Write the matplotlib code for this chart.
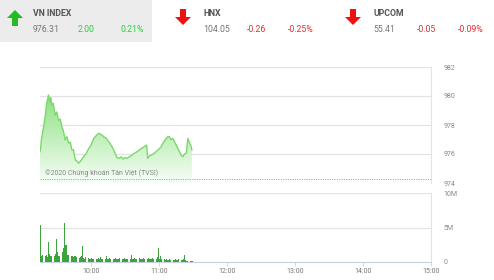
import matplotlib
matplotlib.use("Agg")
import matplotlib.pyplot as plt
import matplotlib.patches as mpatches
import numpy as np

plt.rcParams['font.family'] = ['Roboto', 'DejaVu Sans']

# ---------------- data ----------------
# header quotes
idx_names = ["VN INDEX", "HNX", "UPCOM"]
idx_values = ["976.31", "104.05", "55.41"]
idx_changes = ["2.00", "-0.26", "-0.05"]
idx_pcts = ["0.21%", "-0.25%", "-0.09%"]
idx_up = [True, False, False]

# price (minutes after 09:15)
price_min = [0, 0.4, 1.1, 2.8, 4.6, 5.9, 7.5, 8.6, 9.5, 10.4, 11.7, 13.3, 14.8, 16.3,
             17.9, 19.3, 20.6, 22.2, 23.7, 25.2, 26.8, 28.1, 29.5, 31.1, 32.6, 34.1,
             36.1, 38.5, 40.6, 43.0, 45.0, 47.4, 49.4, 51.8, 53.9, 56.3, 58.3, 60.7,
             62.8, 65.1, 66.7, 68.1, 69.9, 71.6, 73.4, 75.2, 77.0, 78.7, 80.9, 83.2,
             85.4, 87.6, 89.8, 92.0, 94.1, 95.0, 96.5, 98.0, 100.0, 102.4, 104.5,
             106.9, 108.9, 111.3, 112.9, 114.2, 115.6, 117.2, 118.7, 120.2, 121.8,
             123.1, 124.6, 126.0, 127.5, 129.1, 130.5, 132.0, 133.1, 134.0]
price_val = [976.16, 976.28, 976.9, 977.7, 978.6, 979.5, 980.07, 979.6, 979.9, 979.38,
             979.5, 978.69, 978.9, 978.34, 978.4, 977.88, 977.6, 976.97, 977.2, 976.76,
             976.8, 976.28, 976.3, 975.59, 975.5, 975.36, 975.55, 975.82, 976.0, 976.39,
             976.6, 977.08, 977.25, 977.43, 977.35, 977.19, 977.1, 976.85, 976.6,
             976.28, 975.95, 975.75, 975.7, 975.8, 975.65, 975.75, 975.7, 975.82,
             975.9, 976.05, 976.15, 976.28, 976.4, 976.5, 976.62, 975.7, 975.85,
             975.93, 976.0, 976.16, 976.3, 976.5, 976.8, 977.08, 977.2, 977.19, 977.0,
             977.08, 976.85, 976.62, 976.35, 976.16, 975.9, 975.82, 976.0, 976.05,
             977.08, 976.74, 976.6, 976.28]
ref_price = 974.31

# volume per minute (millions), minutes 0..134 after 09:15
volume = [5.3, 0.9, 1.0, 0.8, 0.9, 1.0, 0.7, 2.9, 1.2, 0.8, 0.9, 0.7, 0.8, 1.1, 3.4,
          1.4, 0.9, 0.8, 3.0, 1.5, 2.1, 5.6, 2.5, 2.4, 1.0, 1.0, 2.3, 0.8, 0.9, 0.7,
          0.8, 0.9, 0.7, 0.8, 0.6, 0.7, 0.9, 2.3, 0.6, 0.5, 0.7, 0.5, 0.6, 0.4, 0.5,
          0.6, 0.4, 0.5, 0.7, 0.5, 0.4, 0.6, 0.5, 0.7, 0.4, 0.5, 0.6, 0.5, 0.8, 0.5,
          0.4, 0.6, 0.5, 0.7, 0.5, 0.4, 0.6, 0.5, 0.4, 0.5, 0.6, 0.4, 0.5, 0.4, 0.6,
          0.5, 0.4, 0.5, 0.6, 0.5, 1.0, 0.5, 0.4, 0.6, 0.5, 0.4, 0.5, 0.6, 0.4, 0.5,
          0.4, 0.6, 0.5, 0.4, 0.5, 0.6, 0.4, 0.5, 0.4, 0.6, 0.5, 0.4, 0.5, 0.7, 2.0,
          0.5, 0.8, 0.4, 1.3, 0.4, 0.3, 0.4, 0.3, 0.3, 0.4, 0.3, 0.5, 0.3, 0.3, 0.4,
          0.3, 0.3, 0.4, 0.3, 0.3, 0.3, 0.4, 1.0, 0.3, 0.2, 0.2, 0.3, 0.2, 0.2, 0.2]

price_ticks = [974, 976, 978, 980, 982]
vol_ticks = [0, 5, 10]
vol_tick_labels = ["0", "5M", "10M"]
time_ticks = [10, 11, 12, 13, 14, 15]
time_labels = ["10:00", "11:00", "12:00", "13:00", "14:00", "15:00"]
start_hour = 9.25
end_hour = 15.0

# ---------------- figure ----------------
W, H = 494, 280
fig = plt.figure(figsize=(W / 100, H / 100), dpi=100)
fig.patch.set_facecolor("white")

def fx(px):
    return px / W

def fy(py):
    return 1 - py / H

# header background for first index
fig.patches.append(mpatches.Rectangle((0, fy(42)), fx(152), 42 / H,
                                      transform=fig.transFigure,
                                      facecolor="#ececec", edgecolor="none", zorder=0))

green_txt = "#2ecc40"
red_txt = "#e03030"
name_x = [33, 203, 373]
chg_x = [78, 247, 417]
pct_x = [144, 314, 484]
arrow_x = [15, 183, 353]
for i in range(3):
    fig.text(fx(name_x[i]), fy(13), idx_names[i], fontsize=6.3, fontweight="bold",
             color="#555555", va="center", ha="left")
    fig.text(fx(name_x[i]), fy(30), idx_values[i], fontsize=6.3, color="#777777",
             va="center", ha="left")
    c = green_txt if idx_up[i] else red_txt
    fig.text(fx(chg_x[i]), fy(30), idx_changes[i], fontsize=6.3, color=c,
             va="center", ha="left")
    fig.text(fx(pct_x[i]), fy(30), idx_pcts[i], fontsize=6.3, color=c,
             va="center", ha="right")
    ax0 = arrow_x[i]
    if idx_up[i]:
        pts = [(ax0 - 8, 18), (ax0, 10), (ax0 + 8, 18), (ax0 + 3, 18), (ax0 + 3, 26),
               (ax0 - 3, 26), (ax0 - 3, 18)]
        col = "#22bb22"
    else:
        pts = [(ax0 - 8, 17), (ax0, 25), (ax0 + 8, 17), (ax0 + 3, 17), (ax0 + 3, 9),
               (ax0 - 3, 9), (ax0 - 3, 17)]
        col = "#ee1111"
    fig.patches.append(mpatches.Polygon([(fx(a), fy(b)) for a, b in pts], closed=True,
                                        transform=fig.transFigure, facecolor=col,
                                        edgecolor="none", zorder=2))

# ---------------- price axes ----------------
L, R = 40, 431
ax = fig.add_axes([fx(L), fy(183), fx(R - L), (183 - 67) / H])
ax.set_xlim(start_hour, end_hour)
ax.set_ylim(974, 982)
ax.set_facecolor("none")

px = np.array([start_hour + m / 60 for m in price_min])
pv = np.array(price_val)

verts = [(px[0], 974)] + list(zip(px, pv)) + [(px[-1], 974)]
poly = mpatches.Polygon(verts, closed=True, facecolor="none", edgecolor="none")
ax.add_patch(poly)
grad = np.linspace(0, 1, 256)
top = np.array([0.55, 0.88, 0.50])
bot = np.array([0.97, 0.995, 0.97])
img = np.zeros((256, 1, 3))
for k in range(3):
    img[:, 0, k] = bot[k] + (top[k] - bot[k]) * grad
im = ax.imshow(img, extent=[px[0], px[-1], 974, pv.max()], origin="lower",
               aspect="auto", zorder=2)
im.set_clip_path(poly)
ax.plot(px, pv, color="#7bd96c", lw=1.0, zorder=3)

ax.axhline(ref_price, color="#e58a8a", lw=0.7, ls=(0, (1.2, 1.2)), zorder=4)
ax.text(start_hour + 0.07, ref_price + 0.1, "©2020 Chứng khoán Tân Việt (TVSI)",
        fontsize=5, color="#888888", va="bottom", ha="left", zorder=5)

ax.set_yticks(price_ticks)
ax.yaxis.tick_right()
ax.tick_params(axis="y", length=0, labelsize=5, labelcolor="#888888", pad=9)
ax.set_xticks([])
ax.grid(axis="y", color="#e3e3e3", lw=0.9)
for s in ["top", "left", "bottom"]:
    ax.spines[s].set_visible(False)
ax.spines["right"].set_color("#dde4ec")
ax.spines["right"].set_linewidth(0.8)
ax.set_axisbelow(True)

# ---------------- volume axes ----------------
axv = fig.add_axes([fx(L), fy(262), fx(R - L), (262 - 193) / H])
axv.set_xlim(start_hour, end_hour)
axv.set_ylim(0, 10)
vx = np.array([start_hour + (m + 0.5) / 60 for m in range(len(volume))])
axv.bar(vx, volume, width=1 / 60 * 0.8, color="#3da33d", edgecolor="none", zorder=3)
axv.set_yticks(vol_ticks)
axv.set_yticklabels(vol_tick_labels)
axv.yaxis.tick_right()
axv.tick_params(axis="y", length=0, labelsize=5, labelcolor="#888888", pad=9)
axv.set_xticks(time_ticks)
axv.set_xticklabels(time_labels)
axv.tick_params(axis="x", length=3, width=0.6, color="#d0d0d0", labelsize=5,
                labelcolor="#777777", pad=1)
axv.grid(axis="y", color="#e3e3e3", lw=0.9)
for s in ["top", "left"]:
    axv.spines[s].set_visible(False)
axv.spines["bottom"].set_color("#c8d2de")
axv.spines["bottom"].set_linewidth(0.8)
axv.spines["right"].set_color("#dde4ec")
axv.spines["right"].set_linewidth(0.8)
axv.set_axisbelow(True)

fig.savefig("out.png", dpi=100, facecolor="white")
